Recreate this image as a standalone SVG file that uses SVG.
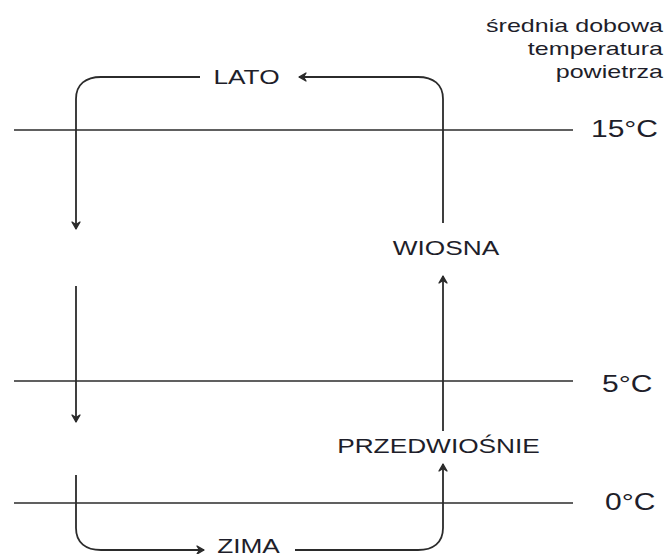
<svg xmlns="http://www.w3.org/2000/svg" width="668" height="554" viewBox="0 0 668 554">
<defs>
<style>
.lvl{stroke:#2b2b2b;stroke-width:1.6;fill:none}
.con{stroke:#2b2b2b;stroke-width:1.8;fill:none}
.lab{font-family:"Liberation Sans",Arial,sans-serif;font-size:21px;fill:#1e1e2a}
.deg{font-family:"Liberation Sans",Arial,sans-serif;font-size:24px;fill:#1e1e2a}
.ttl{font-family:"Liberation Sans",Arial,sans-serif;font-size:19px;fill:#1e1e2a;text-anchor:end}
</style>
<marker id="ah" viewBox="-9 -6 11 12" refX="0" refY="0" markerWidth="11" markerHeight="12" markerUnits="userSpaceOnUse" orient="auto">
<path d="M-7,-4 L0,0 L-7,4 L-4.5,0 Z" fill="#2b2b2b" stroke="#2b2b2b" stroke-width="1.3" stroke-linejoin="round"/>
</marker>
</defs>
<rect width="668" height="554" fill="#ffffff"/>
<g id="levels">
<line class="lvl" x1="14" y1="130" x2="573" y2="130"/>
<line class="lvl" x1="14" y1="381" x2="573" y2="381"/>
<line class="lvl" x1="14" y1="503" x2="573" y2="503"/>
</g>
<g id="connectors">
<path class="con" d="M200,77 H101 C86,77 76,84 76,99 V229" marker-end="url(#ah)"/>
<path class="con" d="M443,223 V99 C443,84 433,77 418,77 H299" marker-end="url(#ah)"/>
<path class="con" d="M76,286 V422" marker-end="url(#ah)"/>
<path class="con" d="M76,475 V528 C76,543 86,550 101,550 H204" marker-end="url(#ah)"/>
<path class="con" d="M295,550 H418 C433,550 443,543 443,528 V464" marker-end="url(#ah)"/>
<path class="con" d="M443,431 V276" marker-end="url(#ah)"/>
</g>
<g id="title">
<text class="ttl" transform="translate(663,32) scale(1.32,1)">średnia dobowa</text>
<text class="ttl" transform="translate(663,55) scale(1.32,1)">temperatura</text>
<text class="ttl" transform="translate(663,78) scale(1.32,1)">powietrza</text>
</g>
<g id="node-lato"><text class="lab" text-anchor="middle" transform="translate(246.5,84) scale(1.25,1)">LATO</text></g>
<g id="node-wiosna"><text class="lab" text-anchor="middle" transform="translate(446,255) scale(1.25,1)">WIOSNA</text></g>
<g id="node-przedwiosnie"><text class="lab" text-anchor="middle" transform="translate(438.5,453) scale(1.25,1)">PRZEDWIOŚNIE</text></g>
<g id="node-zima"><text class="lab" text-anchor="middle" transform="translate(248.5,553) scale(1.25,1)">ZIMA</text></g>
<g id="label-15"><text class="deg" transform="translate(591,137) scale(1.25,1)">15°C</text></g>
<g id="label-5"><text class="deg" transform="translate(602,392) scale(1.25,1)">5°C</text></g>
<g id="label-0"><text class="deg" transform="translate(605,510) scale(1.25,1)">0°C</text></g>
</svg>
